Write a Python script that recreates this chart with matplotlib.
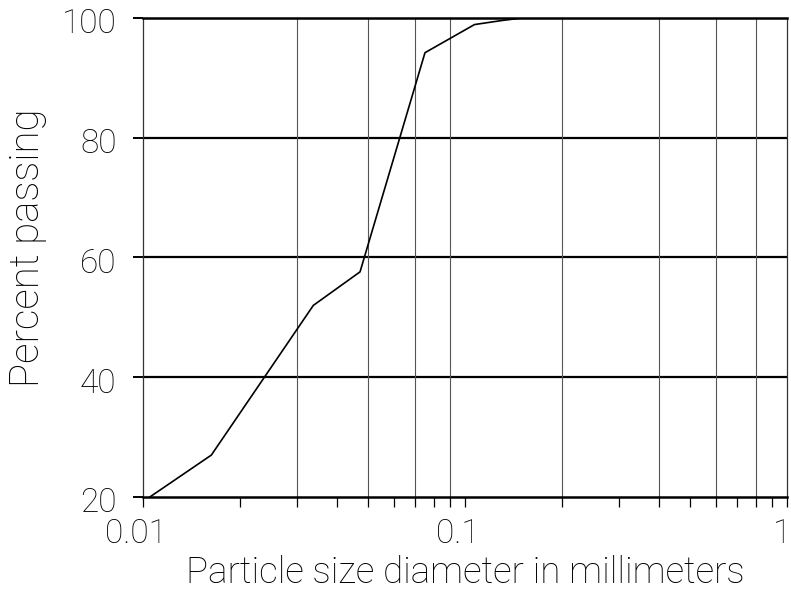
import matplotlib.pyplot as plt
from matplotlib.ticker import FixedLocator, NullFormatter
from matplotlib.transforms import ScaledTranslation

plt.rcParams['font.family'] = ['Roboto', 'DejaVu Sans']
plt.rcParams['font.weight'] = 'light'
plt.rcParams['axes.labelweight'] = 'light'

# grain size curve
size_mm = [0.0105, 0.0163, 0.0338, 0.0472, 0.0751, 0.107, 0.131, 0.151, 1.0]
passing = [20.0, 27.0, 52.0, 57.6, 94.2, 98.9, 99.6, 100.0, 100.0]

y_ticks = [20, 40, 60, 80, 100]
x_major = [0.01, 0.1, 1]
x_major_labels = ["0.01", "0.1", "1"]
x_grid = [0.03, 0.05, 0.07, 0.09, 0.2, 0.4, 0.6, 0.8]

fig = plt.figure(figsize=(7.91, 5.99), dpi=100)
ax = fig.add_axes([0.1808, 0.1703, 0.8142, 0.7997])

ax.set_xscale("log")
ax.set_xlim(0.01, 1)
ax.set_ylim(20, 100)

# heavy horizontal grid, light vertical grid
for v in y_ticks[1:-1]:
    ax.axhline(v, color="black", lw=1.6, zorder=1)
for v in x_grid:
    ax.axvline(v, color="#555555", lw=0.8, zorder=1)

ax.plot(size_mm, passing, color="black", lw=1.2, zorder=3)

ax.set_yticks(y_ticks)
ax.set_yticklabels([str(v) for v in y_ticks])
ax.xaxis.set_major_locator(FixedLocator(x_major))
ax.set_xticklabels(x_major_labels)
minor = [m * d for d in (0.01, 0.1) for m in range(2, 10)]
ax.xaxis.set_minor_locator(FixedLocator(minor))
ax.xaxis.set_minor_formatter(NullFormatter())

ax.tick_params(axis="y", direction="out", length=7, width=1.4, labelsize=24,
               pad=12, labelcolor="black")
ax.tick_params(axis="x", which="both", direction="out", length=7, width=0.9,
               labelsize=24, pad=8, labelcolor="black")

# nudge x labels like the original: 0.01 / 0.1 a bit left, 1 flush right
xlabs = ax.get_xticklabels()
for lab, dx in zip(xlabs, [-5, -5, 3]):
    lab.set_transform(lab.get_transform() + ScaledTranslation(dx / 72, 0, fig.dpi_scale_trans))
xlabs[-1].set_horizontalalignment("right")
for lab in ax.get_yticklabels():
    lab.set_transform(lab.get_transform() + ScaledTranslation(0, -2 / 72, fig.dpi_scale_trans))

for s in ("top", "bottom"):
    ax.spines[s].set_linewidth(1.8)
for s in ("left", "right"):
    ax.spines[s].set_linewidth(0.9)
    ax.spines[s].set_color("#333333")

ax.set_xlabel("Particle size diameter in millimeters", fontsize=26.5, labelpad=4)
ax.set_ylabel("Percent passing", fontsize=29)
ax.yaxis.set_label_coords(-0.149, 0.52)

fig.savefig("out.png", dpi=100)
